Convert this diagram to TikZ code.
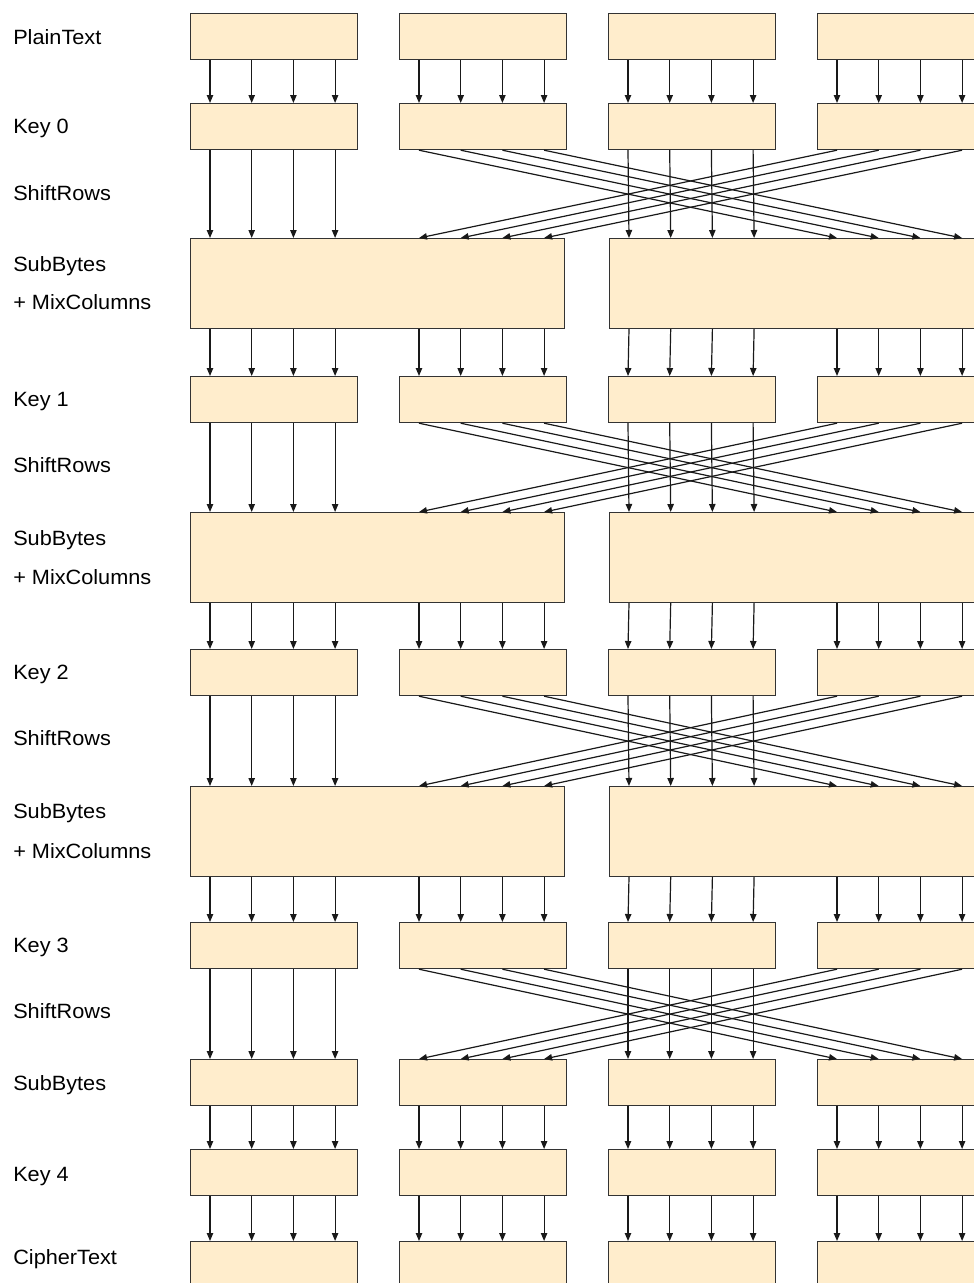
\documentclass[tikz,border=0pt]{standalone}
\usepackage{fontspec}
\setmainfont[FakeStretch=1.05]{Liberation Sans}
\usepackage{xcolor}
\usepackage{tikz}
\usetikzlibrary{arrows.meta}
\usetikzlibrary{calc}
\definecolor{cella}{HTML}{FFEDCC}
\definecolor{bordo}{HTML}{333333}

\begin{document}
\begin{tikzpicture}[x=0.75pt, y=-0.75pt, >={Triangle[length=6pt, width=4.8pt]},
  blocco/.style={draw=bordo, fill=cella, line width=0.9pt, inner sep=0pt, anchor=north west,
    minimum width=125.25pt, minimum height=34.5pt},
  grande/.style={blocco, minimum width=280.5pt, minimum height=67.5pt},
  etichetta/.style={anchor=west, inner sep=0pt, text height=11.1pt, text depth=0pt,
    font=\fontsize{15.5}{18}\selectfont},
  freccia/.style={->, line width=0.9pt, draw=black!90}]

  \useasboundingbox (0,0) rectangle (974,1283);
  \clip (0,0) rectangle (974,1283);

  % 1. Blocchi piccoli (4 colonne per riga)
  \foreach \nome/\y in {pt/13, key0/103, key1/376, key2/649, key3/922, sub/1059, key4/1149, ct/1241}
    \foreach \c in {1,...,4}
      \node[blocco] (\nome-\c) at ({190+209*(\c-1)}, \y) {};

  % 2. Blocchi grandi SubBytes + MixColumns
  \foreach \r/\y in {1/238, 2/512, 3/786} {
    \node[grande] (mix\r-L) at (190, \y) {};
    \node[grande] (mix\r-R) at (609, \y) {};
  }

  % 3. Etichette a sinistra
  \foreach \testo/\y [count=\i] in {PlainText/37, Key 0/126, ShiftRows/193, SubBytes/264,
      + MixColumns/302, Key 1/399, ShiftRows/465, SubBytes/538, + MixColumns/577,
      Key 2/672, ShiftRows/738, SubBytes/811, + MixColumns/851, Key 3/945,
      ShiftRows/1011, SubBytes/1083, Key 4/1174, CipherText/1257}
    \node[etichetta] (lab\i) at (13, \y) {\testo};

  % 4. Frecce verticali tra blocchi piccoli
  \foreach \sopra/\sotto in {pt/key0, sub/key4, key4/ct} {
    \foreach \c in {1,...,4} {
      \foreach \dx in {20, 61.7, 103.4, 145.1} {
        \draw[freccia] ($(\sopra-\c.south west)+(\dx,0)$) -- ($(\sotto-\c.north west)+(\dx,0)$);
      }
    }
  }

  % 5. Frecce dai blocchi grandi alle chiavi
  \foreach \r in {1,2,3} {
    \foreach \dx in {20, 61.7, 103.4, 145.1} {
      \draw[freccia] ($(mix\r-L.south west)+(\dx,0)$) -- ($(key\r-1.north west)+(\dx,0)$);
      \draw[freccia] ($(mix\r-L.south west)+(209+\dx,0)$) -- ($(key\r-2.north west)+(\dx,0)$);
      \draw[freccia] ($(mix\r-R.south west)+(\dx,0)$) -- ($(key\r-3.north west)+(\dx,0)$);
      \draw[freccia] ($(mix\r-R.south west)+(208+\dx,0)$) -- ($(key\r-4.north west)+(\dx,0)$);
    }
  }

  % 6. ShiftRows: colonne 1 e 3 dritte, 2 e 4 incrociate
  \foreach \k/\r in {0/1, 1/2, 2/3} {
    \foreach \dx in {20, 61.7, 103.4, 145.1} {
      \draw[freccia] ($(key\k-1.south west)+(\dx,0)$) -- ($(mix\r-L.north west)+(\dx,0)$);
      \draw[freccia] ($(key\k-3.south west)+(\dx,0)$) -- ($(mix\r-R.north west)+(\dx,0)$);
      \draw[freccia] ($(key\k-2.south west)+(\dx,0)$) -- ($(mix\r-R.north west)+(208+\dx,0)$);
      \draw[freccia] ($(key\k-4.south west)+(\dx,0)$) -- ($(mix\r-L.north west)+(209+\dx,0)$);
    }
  }
  \foreach \dx in {20, 61.7, 103.4, 145.1} {
    \draw[freccia] ($(key3-1.south west)+(\dx,0)$) -- ($(sub-1.north west)+(\dx,0)$);
    \draw[freccia] ($(key3-3.south west)+(\dx,0)$) -- ($(sub-3.north west)+(\dx,0)$);
    \draw[freccia] ($(key3-2.south west)+(\dx,0)$) -- ($(sub-4.north west)+(\dx,0)$);
    \draw[freccia] ($(key3-4.south west)+(\dx,0)$) -- ($(sub-2.north west)+(\dx,0)$);
  }

\end{tikzpicture}
\end{document}
